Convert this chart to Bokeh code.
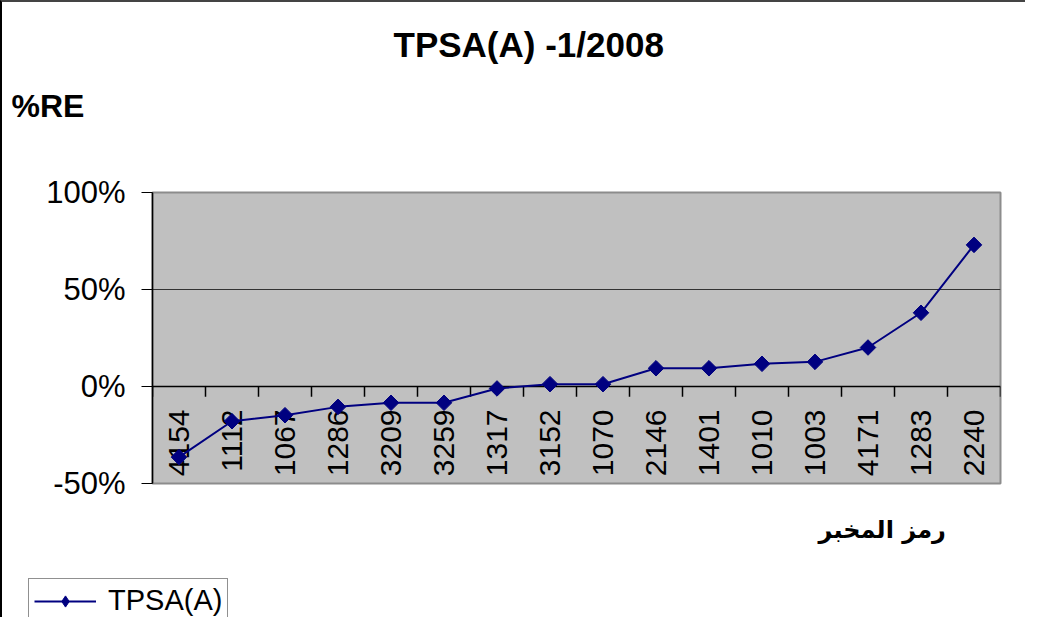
import math
from bokeh.plotting import figure
from bokeh.layouts import column, row
from bokeh.models import (FactorRange, Range1d, FixedTicker, PrintfTickFormatter,
                          Title, Legend, LegendItem, ColumnDataSource)
from bokeh.core.properties import value
from bokeh.embed import file_html
from bokeh.resources import INLINE

# ---- data ----
labs = ["4154", "1112", "1067", "1286", "3209", "3259", "1317", "3152",
        "1070", "2146", "1401", "1010", "1003", "4171", "1283", "2240"]
vals = [-36.4, -17.9, -14.8, -10.5, -8.4, -8.4, -1.0, 1.2,
        1.2, 9.4, 9.4, 11.7, 12.7, 20.1, 38.0, 73.0]
y_ticks = [-50, 0, 50, 100]
series_name = "TPSA(A)"
title_text = "TPSA(A) -1/2008"
y_title = "%RE"
x_title = "رمز المخبر"

FONT = "Liberation Sans"
NAVY = "#000080"

p = figure(width=1025, height=575, output_backend="svg", toolbar_location=None,
           x_range=FactorRange(factors=labs, range_padding=0),
           y_range=Range1d(-50, 100),
           min_border_left=150, min_border_right=27,
           min_border_top=190, min_border_bottom=94,
           x_axis_location=None)
p.styles = {"border-left": "2px solid #000", "border-top": "2px solid #444"}
p.background_fill_color = "#C0C0C0"
p.border_fill_color = "white"
p.outline_line_color = "#8c8c8c"
p.outline_line_width = 2

ya = p.yaxis[0]
ya.ticker = FixedTicker(ticks=y_ticks)
ya.formatter = PrintfTickFormatter(format="%d%%")
ya.major_label_text_font = FONT
ya.major_label_text_font_size = "31px"
ya.major_label_text_color = "black"
ya.axis_line_color = "black"
ya.axis_line_width = 1.5
ya.major_tick_out = 11
ya.major_tick_in = 0
ya.major_tick_line_color = "black"
ya.minor_tick_line_color = None
ya.major_label_standoff = 16

p.xgrid.visible = False
p.ygrid.ticker = FixedTicker(ticks=[50])
p.ygrid.grid_line_color = "#333333"
p.ygrid.grid_line_width = 1

nb = len(labs) + 1
p.segment(x0=[0], y0=[0], x1=[len(labs)], y1=[0], line_color="black", line_width=1.5)
p.segment(x0=list(range(nb)), y0=[0] * nb, x1=list(range(nb)), y1=[-5.3] * nb,
          line_color="black", line_width=1.5)

p.text(x=labs, y=[0] * len(labs), text=labs, angle=math.pi / 2,
       text_align="right", text_baseline="middle", y_offset=23,
       text_font=value(FONT), text_font_size="30px", text_color="black")

src = ColumnDataSource(dict(x=labs, y=vals))
p.line("x", "y", source=src, line_color=NAVY, line_width=2)
p.scatter("x", "y", source=src, marker="square", angle=math.pi / 4, size=11,
          fill_color=NAVY, line_color=NAVY)

# texts in side panels (first added = closest to frame)
p.add_layout(Title(text=y_title, align="left", offset=-141, standoff=137,
                   text_font=FONT, text_font_size="32px", text_font_style="bold",
                   text_color="black"), "above")
p.add_layout(Title(text=title_text, align="left", offset=241, standoff=-93,
                   text_font=FONT, text_font_size="35px", text_font_style="bold",
                   text_color="black"), "above")
p.add_layout(Title(text=x_title, align="left", offset=666, standoff=60,
                   text_font="DejaVu Sans", text_font_size="24px", text_font_style="bold",
                   text_color="black"), "below")

# legend strip below the chart (its renderers sit outside the strip's visible range)
lg = figure(width=1025, height=42, output_backend="svg", toolbar_location=None,
            x_range=Range1d(0, 1), y_range=Range1d(1000, 1001),
            min_border_left=0, min_border_right=0, min_border_top=0, min_border_bottom=0,
            x_axis_location=None, y_axis_location=None)
lg.styles = {"border-left": "2px solid #000"}
lg.grid.visible = False
lg.outline_line_color = None
lg.background_fill_color = "white"
lg.border_fill_color = "white"
lsrc = ColumnDataSource(dict(x=list(range(len(vals))), y=vals))
l_ln = lg.line("x", "y", source=lsrc, line_color=NAVY, line_width=2)
l_sc = lg.scatter("x", "y", source=lsrc, marker="diamond", size=21,
                  fill_color=NAVY, line_color=NAVY)
legend = Legend(items=[LegendItem(label=series_name, renderers=[l_ln, l_sc])],
                location=(26, -6), orientation="vertical",
                label_text_font=FONT, label_text_font_size="29px", label_text_color="black",
                glyph_width=62, glyph_height=28, padding=5, spacing=0, margin=0,
                label_standoff=12,
                border_line_color="#222222", border_line_width=1,
                background_fill_color="white", background_fill_alpha=1)
lg.add_layout(legend, "center")

layout = column(p, row(lg), spacing=0)
open("out.html", "w").write(file_html(layout, INLINE))
